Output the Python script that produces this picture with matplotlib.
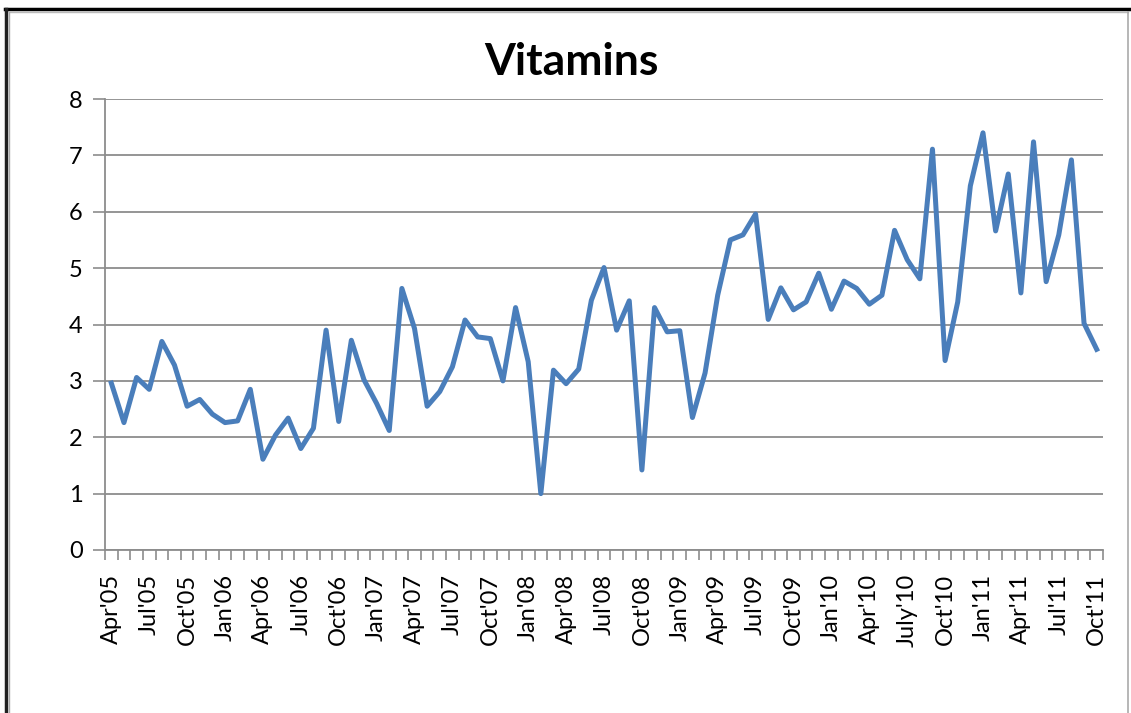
import matplotlib
matplotlib.use("Agg")
import matplotlib.pyplot as plt
from matplotlib.lines import Line2D
import numpy as np

title = "Vitamins"
values = [2.96, 2.26, 3.06, 2.85, 3.70, 3.28, 2.55, 2.67, 2.41, 2.26,
          2.29, 2.85, 1.61, 2.04, 2.34, 1.80, 2.16, 3.90, 2.28, 3.72,
          3.02, 2.60, 2.12, 4.64, 3.93, 2.55, 2.81, 3.25, 4.08, 3.78,
          3.75, 3.00, 4.30, 3.34, 1.00, 3.19, 2.95, 3.21, 4.43, 5.01,
          3.90, 4.42, 1.42, 4.30, 3.87, 3.89, 2.35, 3.14, 4.52, 5.50,
          5.59, 5.96, 4.09, 4.65, 4.26, 4.40, 4.91, 4.27, 4.77, 4.64,
          4.36, 4.52, 5.67, 5.15, 4.81, 7.11, 3.36, 4.40, 6.46, 7.40,
          5.66, 6.67, 4.56, 7.24, 4.76, 5.59, 6.92, 4.02, 3.56]
tick_labels = ["Apr'05", "Jul'05", "Oct'05", "Jan'06", "Apr'06", "Jul'06",
               "Oct'06", "Jan'07", "Apr'07", "Jul'07", "Oct'07", "Jan'08",
               "Apr'08", "Jul'08", "Oct'08", "Jan'09", "Apr'09", "Jul'09",
               "Oct'09", "Jan'10", "Apr'10", "July'10", "Oct'10", "Jan'11",
               "Apr'11", "Jul'11", "Oct'11"]
yticks = [0, 1, 2, 3, 4, 5, 6, 7, 8]

W, H = 1131, 713
fig = plt.figure(figsize=(W / 100, H / 100), dpi=100)
fam = ["Lato", "DejaVu Sans"]

ax = fig.add_axes([105 / W, 1 - 550 / H, (1103 - 105) / W, (550 - 99) / H])
x = np.arange(len(values))
ax.plot(x, values, color="#4A7EBB", lw=3.6, solid_joinstyle="round", zorder=3)

ax.set_xlim(-0.5, len(values) - 0.5)
ax.set_ylim(0, 8)
ax.set_yticks(yticks)
ax.set_yticklabels([str(v) for v in yticks], fontsize=17, family=fam)
ax.yaxis.grid(True, color="#8C8C8C", lw=1.3)
ax.set_axisbelow(True)

ax.set_xticks(x[::3])
ax.set_xticklabels(tick_labels, rotation=90, fontsize=17, family=fam)
ax.set_xticks(np.arange(-0.5, len(values), 1.0), minor=True)
ax.tick_params(axis="x", which="major", length=0, pad=17)
ax.tick_params(axis="x", which="minor", length=7, color="#8C8C8C", width=1.2)
ax.tick_params(axis="y", length=9, color="#8C8C8C", width=1.2, pad=7)

for s in ["top", "right"]:
    ax.spines[s].set_visible(False)
for s in ["left", "bottom"]:
    ax.spines[s].set_color("#8C8C8C")
    ax.spines[s].set_linewidth(1.3)

fig.text(571 / W, 1 - 62 / H, title, ha="center", va="center",
         fontsize=32, fontweight="bold", family=fam)

# chart frame
def fx(px):
    return px / W

def fy(py):
    return 1 - py / H

fig.add_artist(Line2D([fx(5), fx(1131)], [fy(9), fy(9)], color="black", lw=2.5))
fig.add_artist(Line2D([fx(6), fx(6)], [fy(9), fy(713)], color="#222222", lw=2.5))
fig.add_artist(Line2D([fx(9), fx(1128)], [fy(12), fy(12)], color="#BBBBBB", lw=1))
fig.add_artist(Line2D([fx(9), fx(9)], [fy(12), fy(713)], color="#AAAAAA", lw=1))
fig.add_artist(Line2D([fx(1128), fx(1128)], [fy(12), fy(713)], color="#AAAAAA", lw=1.2))

fig.savefig("out.png", dpi=100)
